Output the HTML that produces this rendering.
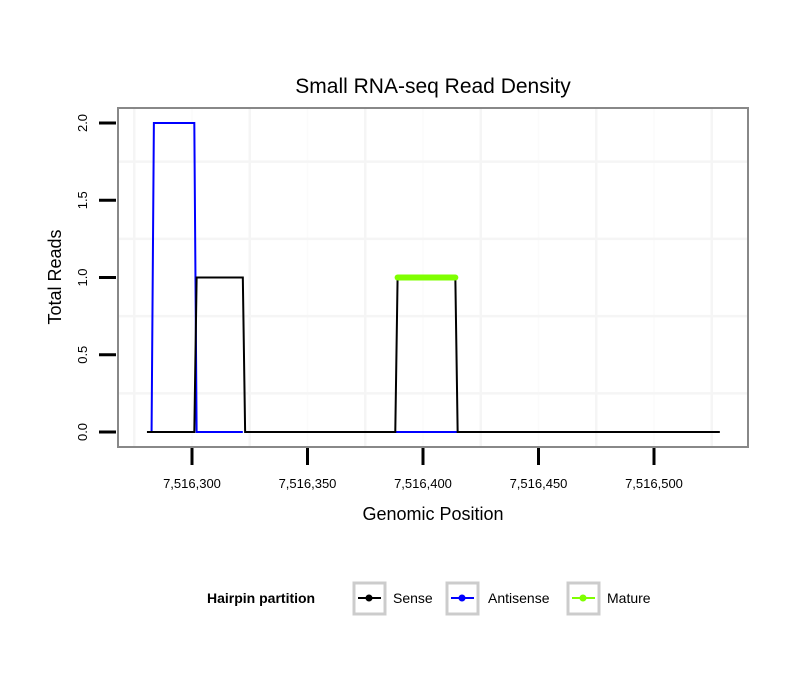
<!DOCTYPE html>
<html><head><meta charset="utf-8"><style>body{margin:0;background:#fff}svg text{font-family:"Liberation Sans",sans-serif}</style></head>
<body>
<svg width="810" height="690" xmlns="http://www.w3.org/2000/svg">
<rect width="810" height="690" fill="#fff"/>
<text x="433" y="93" font-size="21" text-anchor="middle">Small RNA-seq Read Density</text>
<g id="grid"></g>
<g id="axes"></g>
<g id="series"></g>
<rect x="118" y="108" width="630" height="339" fill="none" stroke="#888" stroke-width="2"/>
<text x="433" y="520" font-size="18" text-anchor="middle">Genomic Position</text>
<text transform="translate(61,277) rotate(-90)" font-size="18" text-anchor="middle">Total Reads</text>
<g>
<text x="207" y="603" font-size="14" font-weight="bold">Hairpin partition</text>
<g><rect x="354" y="583" width="31" height="31" fill="#fff" stroke="#ccc" stroke-width="3"/><line x1="358" y1="598" x2="381" y2="598" stroke="#000" stroke-width="2"/><circle cx="369" cy="598" r="3.5" fill="#000"/><text x="393" y="603" font-size="14">Sense</text></g>
<g><rect x="447" y="583" width="31" height="31" fill="#fff" stroke="#ccc" stroke-width="3"/><line x1="451" y1="598" x2="474" y2="598" stroke="#00f" stroke-width="2"/><circle cx="462" cy="598" r="3.5" fill="#00f"/><text x="488" y="603" font-size="14">Antisense</text></g>
<g><rect x="568" y="583" width="31" height="31" fill="#fff" stroke="#ccc" stroke-width="3"/><line x1="572" y1="598" x2="595" y2="598" stroke="#7fff00" stroke-width="2"/><circle cx="583" cy="598" r="3.5" fill="#7fff00"/><text x="607" y="603" font-size="14">Mature</text></g>
</g>
</svg>
<script>
const xTicks=[7516300,7516350,7516400,7516450,7516500];
const xTickLabels=["7,516,300","7,516,350","7,516,400","7,516,450","7,516,500"];
const xMinor=[7516275,7516325,7516375,7516425,7516475,7516525];
const yTicks=[0,0.5,1,1.5,2];
const yTickLabels=["0.0","0.5","1.0","1.5","2.0"];
const yMinor=[0.25,0.75,1.25,1.75];
const senseX=[7516280.5,7516301,7516302,7516322,7516323,7516388,7516389,7516414,7516415,7516528.5];
const senseY=[0,0,1,1,0,0,1,1,0,0];
const antiX=[7516282.5,7516283.5,7516301,7516302,7516322];
const antiY=[0,2,2,0,0];
const anti2X=[7516388,7516415];
const anti2Y=[0,0];
const matureX=[7516389,7516414];
const matureY=[1,1];
const NS="http://www.w3.org/2000/svg";
const sx=v=>192+(v-7516300)*2.31;
const sy=v=>432-v*154.5;
function mk(tag,attrs,parent){const e=document.createElementNS(NS,tag);for(const k in attrs)e.setAttribute(k,attrs[k]);document.getElementById(parent).appendChild(e);return e;}
xMinor.forEach(v=>{const l=mk('line',{x1:sx(v),x2:sx(v),y1:109,y2:446,stroke:'#f5f5f5','stroke-width':2.5},'grid');

});
xTicks.forEach(v=>{const l=mk('line',{x1:sx(v),x2:sx(v),y1:109,y2:446,stroke:'#fbfbfb','stroke-width':1.5},'grid');

});
yMinor.forEach(v=>{const l=mk('line',{x1:119,x2:747,y1:sy(v),y2:sy(v),stroke:'#f5f5f5','stroke-width':2.5},'grid');

});
xTicks.forEach((v,i)=>{const t=mk('line',{x1:sx(v),x2:sx(v),y1:448,y2:465,stroke:'#000','stroke-width':3},'axes');


const tx=mk('text',{x:sx(v),y:488,'font-size':13,'text-anchor':'middle'},'axes');tx.textContent=xTickLabels[i];

});
yTicks.forEach((v,i)=>{const t=mk('line',{x1:99,x2:116,y1:sy(v),y2:sy(v),stroke:'#000','stroke-width':3},'axes');


const tx=mk('text',{transform:`translate(87,${sy(v)}) rotate(-90)`,'font-size':13,'text-anchor':'middle'},'axes');tx.textContent=yTickLabels[i];

});
function line(xs,ys,color,w,name,cap){const p=mk('polyline',{points:xs.map((x,i)=>sx(x)+','+sy(ys[i])).join(' '),fill:'none',stroke:color,'stroke-width':w,'stroke-linecap':cap||'butt','stroke-linejoin':'miter'},'series');

}
line(antiX,antiY,'#00f',2,'antisense-line');
line(anti2X,anti2Y,'#00f',2,'antisense-line-2');
line(senseX,senseY,'#000',2,'sense-line');
line(matureX,matureY,'#7fff00',6,'mature-line','round');
</script>
</body></html>
